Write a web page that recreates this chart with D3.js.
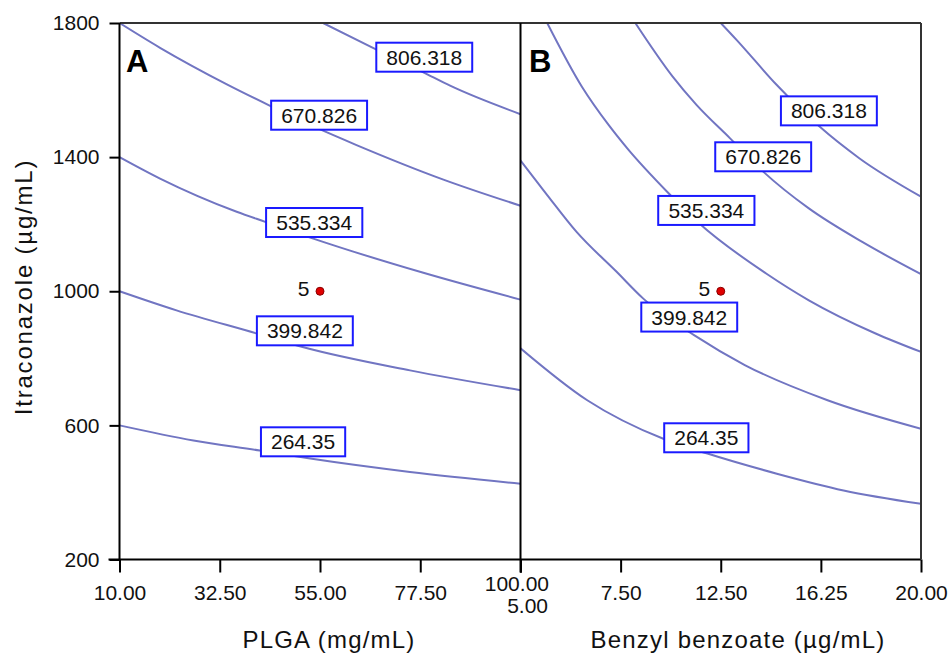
<!DOCTYPE html>
<html>
<head>
<meta charset="utf-8">
<script src="https://cdn.jsdelivr.net/npm/d3@7"></script>
<style>
  html, body { margin: 0; padding: 0; background: #fff; }
  svg { display: block; font-family: "Liberation Sans", Arial, sans-serif; }
</style>
</head>
<body>
<svg id="chart" width="949" height="654"></svg>
<script>
// ---- Axis ticks -------------------------------------------------------
const itraTicks = [200, 600, 1000, 1400, 1800];
const plgaTicks = [10, 32.5, 55, 77.5, 100];
const plgaTickLabels = ["10.00", "32.50", "55.00", "77.50", "100.00"];
const bbTicks = [5, 8.75, 12.5, 16.25, 20];
const bbTickLabels = ["5.00", "7.50", "12.50", "16.25", "20.00"];

// ---- Contour levels ---------------------------------------------------
const levels = ["264.35", "399.842", "535.334", "670.826", "806.318"];

// ---- Panel A: PLGA (mg/mL) vs Itraconazole (µg/mL) ---------------------
const contourA264 = [[10, 600], [26.6, 555], [41.5, 525], [52.8, 501], [75.2, 461], [100, 426]];
const contourA400 = [[10, 1000], [22.8, 943], [40.8, 874], [51.3, 833], [75.2, 764], [100, 705]];
const contourA535 = [[10, 1400], [19.1, 1336], [36.3, 1237], [42.7, 1207], [53.5, 1157], [78.2, 1055], [100, 975]];
const contourA671 = [[10, 1800], [19.1, 1726], [34.1, 1617], [43.8, 1553], [54.3, 1487], [63.2, 1436], [82.7, 1333], [100, 1255]];
const contourA806 = [[55.7, 1800], [67, 1725], [78.2, 1653], [84.2, 1613], [100, 1528]];
// where each level's value label sits (PLGA, Itraconazole)
const labelAnchorA = [[51.2, 551], [51.6, 882], [53.7, 1205], [54.8, 1525], [78.4, 1698]];
const designPointA = [55, 1000];

// ---- Panel B: Benzyl benzoate (µg/mL) vs Itraconazole (µg/mL) ----------
const contourB264 = [[5, 830], [7.5, 675], [10.35, 560], [12, 516], [14.6, 456], [17.1, 406], [20, 366]];
const contourB400 = [[5, 1390], [6, 1287], [7.1, 1177], [8.6, 1058], [9.6, 978], [11.5, 869], [13.4, 780], [16.5, 675], [20, 590]];
const contourB535 = [[6, 1800], [7.3, 1610], [8.3, 1496], [9, 1426], [10.5, 1296], [11.7, 1202], [14.2, 1053], [15.8, 973], [18.3, 874], [20, 819]];
const contourB671 = [[9.3, 1800], [10.7, 1640], [11.6, 1555], [12.85, 1456], [14.1, 1356], [15.8, 1247], [17.8, 1147], [20, 1051]];
const contourB806 = [[12.5, 1800], [13.1, 1749], [14.6, 1615], [16.2, 1491], [17.7, 1396], [20, 1282]];
const labelAnchorB = [[11.96, 563], [11.32, 923], [11.96, 1241], [14.09, 1401], [16.55, 1538]];
const designPointB = [12.5, 1000];

const pointLabel = "5";

// ---- Layout -----------------------------------------------------------
const svg = d3.select("#chart");
const plotTop = 23, plotBottom = 559.5, plotLeft = 119.5, plotMid = 520.5, plotRight = 921;

const y = d3.scaleLinear().domain([200, 1800]).range([plotBottom, plotTop]);
const xA = d3.scaleLinear().domain([10, 100]).range([plotLeft, plotMid]);
const xB = d3.scaleLinear().domain([5, 20]).range([plotMid, plotRight]);

const curveColor = "#7175c2";
const tickFont = 21;

const defs = svg.append("defs");
defs.append("clipPath").attr("id", "clipA")
  .append("rect").attr("x", plotLeft).attr("y", plotTop)
  .attr("width", plotMid - plotLeft).attr("height", plotBottom - plotTop);
defs.append("clipPath").attr("id", "clipB")
  .append("rect").attr("x", plotMid).attr("y", plotTop)
  .attr("width", plotRight - plotMid).attr("height", plotBottom - plotTop);

function drawPanel(x, clipId, contours, anchors, point, letter, letterX) {
  const g = svg.append("g");
  const line = d3.line().x(d => x(d[0])).y(d => y(d[1])).curve(d3.curveMonotoneX);

  g.append("g").attr("clip-path", `url(#${clipId})`)
    .selectAll("path").data(contours).join("path")
    .attr("d", line)
    .attr("fill", "none")
    .attr("stroke", curveColor)
    .attr("stroke-width", 2);

  // level labels in blue boxes
  const lab = g.selectAll("g.lab").data(levels).join("g").attr("class", "lab")
    .attr("transform", (d, i) => `translate(${x(anchors[i][0])},${y(anchors[i][1])})`);
  lab.append("text")
    .attr("text-anchor", "middle")
    .attr("dy", "0.36em")
    .attr("font-size", tickFont)
    .attr("fill", "#111")
    .text(d => d);
  lab.each(function () {
    const t = d3.select(this).select("text");
    const bb = t.node().getBBox();
    d3.select(this).insert("rect", "text")
      .attr("x", -bb.width / 2 - 10)
      .attr("y", -14.5)
      .attr("width", bb.width + 20)
      .attr("height", 29)
      .attr("fill", "#fff")
      .attr("stroke", "#1a1aff")
      .attr("stroke-width", 2);
  });

  // design point
  g.append("circle")
    .attr("cx", x(point[0])).attr("cy", y(point[1])).attr("r", 4)
    .attr("fill", "#e00000").attr("stroke", "#8a0000").attr("stroke-width", 1);
  g.append("text")
    .attr("x", x(point[0]) - 10.5).attr("y", y(point[1]) + 5)
    .attr("text-anchor", "end").attr("font-size", tickFont).attr("fill", "#111")
    .text(pointLabel);

  // panel letter
  g.append("text")
    .attr("x", letterX).attr("y", 71.5)
    .attr("font-size", 31).attr("font-weight", "bold").attr("fill", "#000")
    .text(letter);
}

drawPanel(xA, "clipA", [contourA264, contourA400, contourA535, contourA671, contourA806],
  labelAnchorA, designPointA, "A", 126);
drawPanel(xB, "clipB", [contourB264, contourB400, contourB535, contourB671, contourB806],
  labelAnchorB, designPointB, "B", 529);

// ---- Axes -------------------------------------------------------------
function styleAxis(g) {
  g.select(".domain").remove();
  g.selectAll(".tick line").attr("stroke", "#000").attr("stroke-width", 2);
  g.selectAll(".tick text").attr("font-size", tickFont).attr("fill", "#111")
    .attr("font-family", "\"Liberation Sans\", Arial, sans-serif");
}

svg.append("g").attr("transform", `translate(${plotLeft},0)`)
  .call(d3.axisLeft(y).tickValues(itraTicks).tickSize(10).tickPadding(10).tickFormat(d3.format("d")))
  .call(styleAxis);

const axA = svg.append("g").attr("transform", `translate(0,${plotBottom})`)
  .call(d3.axisBottom(xA).tickValues(plgaTicks).tickSize(13).tickFormat((d, i) => plgaTickLabels[i]))
  .call(styleAxis);
axA.selectAll(".tick text").attr("y", 40.5).attr("dy", 0);
axA.selectAll(".tick text").filter((d, i) => i === plgaTicks.length - 1)
  .attr("y", 31.5).attr("x", 28).attr("text-anchor", "end");

const axB = svg.append("g").attr("transform", `translate(0,${plotBottom})`)
  .call(d3.axisBottom(xB).tickValues(bbTicks).tickSize(13).tickFormat((d, i) => bbTickLabels[i]))
  .call(styleAxis);
axB.selectAll(".tick text").attr("y", 40.5).attr("dy", 0);
axB.selectAll(".tick text").filter((d, i) => i === 0)
  .attr("y", 53.5).attr("x", 27).attr("text-anchor", "end");

// ---- Frame ------------------------------------------------------------
const frame = svg.append("g").attr("stroke", "#000").attr("stroke-width", 2).attr("fill", "none");
frame.append("line").attr("x1", plotLeft).attr("x2", plotRight).attr("y1", plotTop).attr("y2", plotTop).attr("stroke", "#333");
frame.append("line").attr("x1", plotLeft - 11).attr("x2", plotRight).attr("y1", plotBottom).attr("y2", plotBottom);
frame.append("line").attr("x1", plotLeft).attr("x2", plotLeft).attr("y1", plotTop).attr("y2", plotBottom);
frame.append("line").attr("x1", plotMid).attr("x2", plotMid).attr("y1", plotTop).attr("y2", plotBottom + 13);
frame.append("line").attr("x1", plotRight).attr("x2", plotRight).attr("y1", plotTop).attr("y2", plotBottom).attr("stroke", "#333");

// ---- Axis titles ------------------------------------------------------
svg.append("text")
  .attr("x", 329).attr("y", 648).attr("text-anchor", "middle")
  .attr("font-size", 24).attr("letter-spacing", 1.2).attr("fill", "#111")
  .text("PLGA (mg/mL)");
svg.append("text")
  .attr("x", 738).attr("y", 648).attr("text-anchor", "middle")
  .attr("font-size", 24).attr("letter-spacing", 1.2).attr("fill", "#111")
  .text("Benzyl benzoate (µg/mL)");
svg.append("text")
  .attr("transform", "translate(31.5,287) rotate(-90)").attr("text-anchor", "middle")
  .attr("font-size", 24).attr("letter-spacing", 1.8).attr("fill", "#111")
  .text("Itraconazole (µg/mL)");
</script>
</body>
</html>
